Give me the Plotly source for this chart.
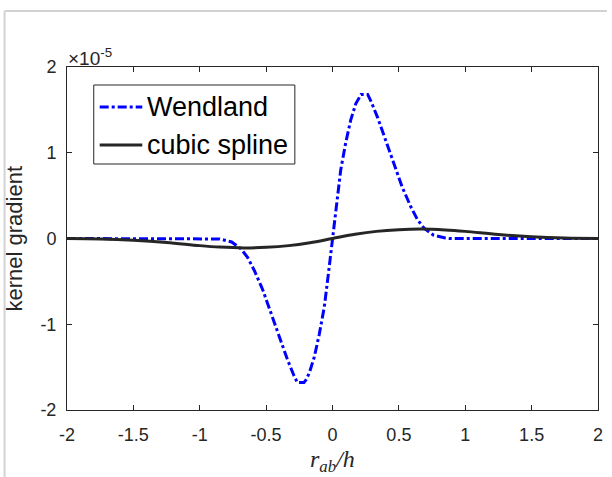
import plotly.graph_objects as go

# Kernel gradient values, in units of 1e-5
SCALE = 1e-5

wendland_x = [-2.0, -1.0, -0.88, -0.85, -0.76, -0.69, -0.64, -0.59, -0.525, -0.465,
              -0.40, -0.34, -0.29, -0.265, -0.215, -0.20, -0.175, -0.137, -0.10,
              -0.062, -0.03, 0.0, 0.03, 0.062, 0.10, 0.137, 0.175, 0.20, 0.215,
              0.265, 0.29, 0.34, 0.40, 0.465, 0.525, 0.59, 0.64, 0.69, 0.76, 0.85,
              0.88, 1.0, 2.0]
wendland_y = [0.0, 0.0, 0.0, -0.005, -0.04, -0.12, -0.22, -0.37, -0.60, -0.86,
              -1.14, -1.41, -1.60, -1.68, -1.68, -1.65, -1.57, -1.38, -1.12,
              -0.80, -0.40, 0.0, 0.40, 0.80, 1.12, 1.38, 1.57, 1.65, 1.68,
              1.68, 1.60, 1.41, 1.14, 0.86, 0.60, 0.37, 0.22, 0.12, 0.04, 0.005,
              0.0, 0.0, 0.0]

cubic_x = [-2.0, -1.75, -1.5, -1.25, -1.0, -0.85, -0.67, -0.5, -0.33, -0.17, 0.0,
           0.17, 0.33, 0.5, 0.67, 0.85, 1.0, 1.25, 1.5, 1.75, 2.0]
cubic_y = [0.0, -0.005, -0.02, -0.046, -0.083, -0.10, -0.11, -0.103, -0.083, -0.049, 0.0,
           0.049, 0.083, 0.103, 0.11, 0.10, 0.083, 0.046, 0.02, 0.005, 0.0]

x_ticks = [-2, -1.5, -1, -0.5, 0, 0.5, 1, 1.5, 2]
x_tick_labels = ["-2", "-1.5", "-1", "-0.5", "0", "0.5", "1", "1.5", "2"]
y_ticks = [-2, -1, 0, 1, 2]
y_tick_labels = ["-2", "-1", "0", "1", "2"]

series_names = ["Wendland", "cubic spline"]
series_colors = ["#0000ff", "#262626"]

W, H = 612, 477
L, R, T, B = 67, 9, 67, 67
PW, PH = W - L - R, H - T - B


def px(xp):
    return (xp - L) / PW


def py(yp):
    return (H - B - yp) / PH


fig = go.Figure()
fig.add_trace(go.Scatter(
    x=wendland_x, y=[v * SCALE for v in wendland_y], mode="lines",
    name=series_names[0], showlegend=False,
    line=dict(color=series_colors[0], width=3, dash="dashdot")))
fig.add_trace(go.Scatter(
    x=cubic_x, y=[v * SCALE for v in cubic_y], mode="lines",
    name=series_names[1], showlegend=False,
    line=dict(color=series_colors[1], width=3, shape="spline")))

axis_common = dict(
    showgrid=False, zeroline=False, showline=True, linecolor="#262626",
    linewidth=1, mirror="ticks", ticks="inside", ticklen=5, tickwidth=1,
    tickcolor="#262626",
    tickfont=dict(family="Liberation Sans, Arial", size=18, color="#262626"),
)

fig.update_xaxes(range=[-2, 2], tickvals=x_ticks, ticktext=x_tick_labels,
                 ticklabelstandoff=8, **axis_common)
fig.update_yaxes(range=[-2 * SCALE, 2 * SCALE], tickvals=[v * SCALE for v in y_ticks],
                 ticktext=y_tick_labels, ticklabelstandoff=6, **axis_common)

shapes = [
    # window frame edges
    dict(type="line", xref="paper", yref="paper", x0=px(4), x1=px(612), y0=py(11), y1=py(11),
         line=dict(color="#d2d2d2", width=2)),
    dict(type="line", xref="paper", yref="paper", x0=px(4), x1=px(4), y0=py(11), y1=py(477),
         line=dict(color="#d2d2d2", width=2)),
    # legend box
    dict(type="rect", xref="paper", yref="paper", x0=px(94), x1=px(297), y0=py(164), y1=py(85),
         line=dict(color="#262626", width=1), fillcolor="white", layer="above"),
    dict(type="line", xref="paper", yref="paper", x0=px(100), x1=px(143), y0=py(107), y1=py(107),
         line=dict(color=series_colors[0], width=3, dash="dashdot"), layer="above"),
    dict(type="line", xref="paper", yref="paper", x0=px(100), x1=px(143), y0=py(145), y1=py(145),
         line=dict(color=series_colors[1], width=3), layer="above"),
]

legend_font = dict(family="Liberation Sans, Arial", size=27, color="#000000")
annotations = [
    dict(text=series_names[0], x=px(146), y=py(107), xref="paper", yref="paper",
         xanchor="left", yanchor="middle", showarrow=False, font=legend_font),
    dict(text=series_names[1], x=px(146), y=py(145), xref="paper", yref="paper",
         xanchor="left", yanchor="middle", showarrow=False, font=legend_font),
    dict(text="×10<sup>-5</sup>", x=px(66), y=py(57), xref="paper", yref="paper",
         xanchor="left", yanchor="middle", showarrow=False,
         font=dict(family="Liberation Sans, Arial", size=19, color="#262626")),
    dict(text="kernel gradient", x=px(15), y=py(238), xref="paper", yref="paper",
         xanchor="center", yanchor="middle", textangle=-90, showarrow=False,
         font=dict(family="Liberation Sans, Arial", size=22, color="#262626")),
    dict(text="<i>r</i><sub><i>ab</i></sub><i>/h</i>", x=px(335), y=py(461),
         xref="paper", yref="paper", xanchor="center", yanchor="middle", showarrow=False,
         font=dict(family="Liberation Serif, Times New Roman", size=24, color="#262626")),
]

fig.update_layout(
    width=W, height=H, margin=dict(l=L, r=R, t=T, b=B, pad=0),
    paper_bgcolor="white", plot_bgcolor="white",
    shapes=shapes, annotations=annotations, showlegend=False,
)

fig.write_html("out.html")
